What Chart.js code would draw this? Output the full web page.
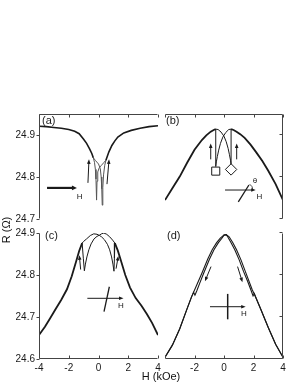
<!DOCTYPE html>
<html>
<head>
<meta charset="utf-8">
<script src="https://cdn.jsdelivr.net/npm/chart.js@4.4.1/dist/chart.umd.min.js"></script>
<style>
  html, body { margin: 0; padding: 0; background: #fff; }
  #wrap { position: relative; width: 298px; height: 385px; overflow: hidden; font-family: 'Liberation Sans', Arial, sans-serif; color: #111; }
  #wrap canvas { position: absolute; left: 0; top: 0; }
  .ylab { position: absolute; left: -14px; top: 223px; width: 40px; height: 14px; line-height: 14px; text-align: center; font-size: 11px; transform: rotate(-90deg); }
  .xlab { position: absolute; left: 126px; top: 370px; width: 70px; line-height: 13px; text-align: center; font-size: 11px; }
</style>
</head>
<body>
<div id="wrap">
  <canvas id="panelA" width="298" height="385"></canvas>
  <canvas id="panelB" width="298" height="385"></canvas>
  <canvas id="panelC" width="298" height="385"></canvas>
  <canvas id="panelD" width="298" height="385"></canvas>
  <div class="ylab">R (Ω)</div>
  <div class="xlab">H (kOe)</div>
</div>
<script>
// tick values
const hTicks = [-4, -2, 0, 2, 4];
const cHLabels = [-4, -2, 0, 2, 4];
const dHLabels = [-2, 0, 2, 4];
const topRTicks = [24.7, 24.8, 24.9];
const bottomRTicks = [24.6, 24.7, 24.8, 24.9];

// (a) shared envelope plus the two dips near zero
const aOuterLeftH = [-4, -3.5, -3, -2.5, -2, -1.6, -1.3, -1, -0.8, -0.6, -0.45, -0.35];
const aOuterLeftR = [24.921, 24.92, 24.918, 24.916, 24.913, 24.909, 24.903, 24.89, 24.88, 24.867, 24.856, 24.846];
const aOuterRightH = [0.5, 0.6, 0.7, 0.9, 1.1, 1.3, 1.7, 2.2, 2.8, 3.4, 4];
const aOuterRightR = [24.84, 24.85, 24.86, 24.875, 24.886, 24.895, 24.905, 24.911, 24.916, 24.92, 24.922];
const aDip1H = [-0.35, -0.27, -0.21, -0.17, -0.13, -0.1, -0.05, 0.05, 0.2, 0.35, 0.5];
const aDip1R = [24.846, 24.835, 24.818, 24.795, 24.745, 24.79, 24.812, 24.822, 24.828, 24.834, 24.84];
const aDip2H = [-0.35, -0.2, 0, 0.12, 0.18, 0.22, 0.25, 0.29, 0.34, 0.42, 0.5];
const aDip2R = [24.846, 24.839, 24.831, 24.82, 24.8, 24.772, 24.733, 24.775, 24.805, 24.828, 24.84];

// (b) outer curves, inner arcs with jumps, and the two markers
const bLeftH = [-4, -3.5, -3, -2.5, -2, -1.5, -1.2, -0.9, -0.7, -0.56];
const bLeftR = [24.745, 24.773, 24.801, 24.834, 24.865, 24.888, 24.899, 24.908, 24.912, 24.914];
const bRightH = [0.48, 0.65, 0.85, 1.1, 1.4, 1.8, 2.2, 2.6, 3, 3.5, 4];
const bRightR = [24.914, 24.912, 24.908, 24.902, 24.893, 24.877, 24.858, 24.838, 24.815, 24.783, 24.745];
const bUpInnerH = [-0.56, -0.4, -0.2, 0, 0.15, 0.28, 0.37, 0.44, 0.48, 0.48];
const bUpInnerR = [24.914, 24.913, 24.907, 24.897, 24.884, 24.868, 24.853, 24.84, 24.829, 24.914];
const bDownInnerH = [0.48, 0.32, 0.12, -0.08, -0.24, -0.36, -0.45, -0.52, -0.56, -0.56];
const bDownInnerR = [24.914, 24.913, 24.906, 24.895, 24.88, 24.864, 24.849, 24.836, 24.825, 24.914];
const bSquareH = [-0.56];
const bSquareR = [24.814];
const bDiamondH = [0.48];
const bDiamondR = [24.818];

// (c) outer curves and the two notched inner branches
const cOuterLeftH = [-4, -3.6, -3.25, -2.9, -2.5, -2.12, -1.8, -1.5, -1.3, -1.1];
const cOuterLeftR = [24.657, 24.677, 24.697, 24.718, 24.741, 24.766, 24.797, 24.833, 24.857, 24.876];
const cOuterRightH = [1.1, 1.3, 1.5, 1.8, 2.12, 2.5, 2.9, 3.25, 3.6, 4];
const cOuterRightR = [24.876, 24.858, 24.835, 24.8, 24.77, 24.745, 24.726, 24.707, 24.686, 24.657];
const cInnerUpH = [-1.1, -1.02, -0.95, -0.88, -0.78, -0.65, -0.5, -0.3, -0.1, 0.07, 0.2, 0.36, 0.55, 0.75, 0.95, 1.1];
const cInnerUpR = [24.876, 24.84, 24.81, 24.826, 24.843, 24.86, 24.874, 24.886, 24.892, 24.895, 24.898, 24.9, 24.897, 24.891, 24.883, 24.876];
const cInnerDownH = [1.1, 1.07, 1.04, 0.97, 0.88, 0.75, 0.6, 0.4, 0.2, 0.07, -0.1, -0.32, -0.55, -0.8, -1.0, -1.1];
const cInnerDownR = [24.876, 24.84, 24.809, 24.826, 24.843, 24.86, 24.873, 24.884, 24.891, 24.894, 24.897, 24.898, 24.894, 24.886, 24.88, 24.876];

// (d) up and down sweeps
const dUpH = [-4, -3.5, -3, -2.5, -2.2, -1.9, -1.5, -1.1, -0.8, -0.5, -0.25, 0, 0.15, 0.25, 0.48, 0.73, 1.03, 1.33, 1.6, 1.85, 1.97, 2.06, 2.2, 2.5, 3, 3.5, 4];
const dUpR = [24.604, 24.633, 24.672, 24.72, 24.748, 24.772, 24.804, 24.838, 24.86, 24.877, 24.888, 24.895, 24.896, 24.891, 24.877, 24.86, 24.836, 24.808, 24.785, 24.762, 24.75, 24.756, 24.743, 24.718, 24.675, 24.635, 24.604];
const dDownH = [4, 3.5, 3, 2.5, 2.2, 1.9, 1.45, 1.15, 0.85, 0.6, 0.35, 0.15, 0, -0.13, -0.38, -0.68, -0.98, -1.38, -1.65, -1.85, -1.97, -2.06, -2.2, -2.5, -3, -3.5, -4];
const dDownR = [24.604, 24.635, 24.675, 24.718, 24.743, 24.766, 24.808, 24.836, 24.86, 24.877, 24.891, 24.896, 24.895, 24.888, 24.877, 24.86, 24.838, 24.804, 24.78, 24.762, 24.752, 24.759, 24.748, 24.72, 24.672, 24.633, 24.604];

const INK = '#1a1a1a';
const AXIS = '#444';
const FONT = "'Liberation Sans', Arial, sans-serif";

Chart.defaults.font.family = FONT;
Chart.defaults.color = INK;

function toPoints(hs, rs) {
    return hs.map((h, i) => ({ x: h, y: rs[i] }));
}

function curve(hs, rs, width, color) {
    return {
        data: toPoints(hs, rs),
        showLine: true,
        borderColor: color || INK,
        borderWidth: width,
        pointRadius: 0,
        tension: 0,
        fill: false
    };
}

function marker(hs, rs, style) {
    return {
        data: toPoints(hs, rs),
        showLine: false,
        pointStyle: style,
        pointRadius: 5.7,
        backgroundColor: '#fff',
        borderColor: INK,
        borderWidth: 1,
        order: -1
    };
}

// axis lines and tick marks, drawn at the scale positions
const framePlugin = {
    id: 'frame',
    afterDraw(chart, args, opts) {
        const { ctx, chartArea: ca, scales: { x, y } } = chart;
        const L = Math.round(ca.left) + 0.5;
        const R = Math.round(ca.right) - 0.5;
        const T = Math.round(ca.top) + 0.5;
        const B = Math.round(ca.bottom) - 0.5;
        ctx.save();
        ctx.strokeStyle = AXIS;
        ctx.lineWidth = 1;
        ctx.beginPath();
        if (opts.left) {
            ctx.moveTo(L, T); ctx.lineTo(L, B);
            opts.yTicks.forEach(v => {
                const py = Math.round(y.getPixelForValue(v)) + 0.5;
                ctx.moveTo(L - 3, py); ctx.lineTo(L, py);
            });
        }
        if (opts.right) {
            ctx.moveTo(R, T); ctx.lineTo(R, B);
            opts.yTicks.forEach(v => {
                const py = Math.round(y.getPixelForValue(v)) - 0.5;
                ctx.moveTo(R - 3, py); ctx.lineTo(R, py);
            });
        }
        if (opts.top) {
            ctx.moveTo(L, T); ctx.lineTo(R, T);
            opts.xTicks.forEach(v => {
                const px = Math.round(x.getPixelForValue(v)) + 0.5;
                ctx.moveTo(px, T); ctx.lineTo(px, T + 3);
            });
        }
        if (opts.bottom) {
            ctx.moveTo(L, B); ctx.lineTo(R, B);
            opts.xTicks.forEach(v => {
                const px = Math.round(x.getPixelForValue(v)) + 0.5;
                ctx.moveTo(px, B - 3); ctx.lineTo(px, B);
            });
        }
        ctx.stroke();
        ctx.restore();
    }
};

// arrows, field sketches and panel letters
const notesPlugin = {
    id: 'notes',
    afterDatasetsDraw(chart, args, opts) {
        const { ctx, chartArea: ca, scales: { x, y } } = chart;
        const toPx = p => [x.getPixelForValue(p[0]), y.getPixelForValue(p[1])];
        ctx.save();
        ctx.strokeStyle = INK;
        ctx.fillStyle = INK;
        (opts.items || []).forEach(it => {
            if (it.type === 'line' || it.type === 'arrow') {
                const [x1, y1] = toPx(it.from);
                const [x2, y2] = toPx(it.to);
                const a = Math.atan2(y2 - y1, x2 - x1);
                const len = it.head || 4.5;
                const stop = it.type === 'arrow' ? len * 0.6 : 0;
                ctx.lineWidth = it.width || 1;
                ctx.beginPath();
                ctx.moveTo(x1, y1);
                ctx.lineTo(x2 - stop * Math.cos(a), y2 - stop * Math.sin(a));
                ctx.stroke();
                if (it.type === 'arrow') {
                    const half = it.half || 1.8;
                    ctx.beginPath();
                    ctx.moveTo(x2, y2);
                    ctx.lineTo(x2 - len * Math.cos(a) + half * Math.sin(a), y2 - len * Math.sin(a) - half * Math.cos(a));
                    ctx.lineTo(x2 - len * Math.cos(a) - half * Math.sin(a), y2 - len * Math.sin(a) + half * Math.cos(a));
                    ctx.closePath();
                    ctx.fill();
                }
            } else if (it.type === 'text') {
                const [tx, ty] = toPx(it.at);
                ctx.font = (it.size || 8) + 'px ' + FONT;
                ctx.textAlign = 'left';
                ctx.textBaseline = 'alphabetic';
                ctx.fillText(it.text, tx, ty);
            } else if (it.type === 'arc') {
                const [cx, cy] = toPx(it.at);
                ctx.lineWidth = 0.8;
                ctx.beginPath();
                ctx.arc(cx, cy, it.radius, it.start * Math.PI / 180, it.end * Math.PI / 180);
                ctx.stroke();
            }
        });
        ctx.font = '11px ' + FONT;
        ctx.textAlign = 'left';
        ctx.textBaseline = 'alphabetic';
        ctx.fillText(opts.label, ca.left + opts.labelDx, ca.top + opts.labelDy);
        ctx.restore();
    }
};

function buildPanel(canvasId, cfg) {
    return new Chart(document.getElementById(canvasId), {
        type: 'scatter',
        data: { datasets: cfg.datasets },
        options: {
            responsive: false,
            animation: false,
            devicePixelRatio: 1,
            events: [],
            layout: { padding: cfg.padding },
            plugins: {
                legend: { display: false },
                tooltip: { enabled: false },
                frame: cfg.frame,
                notes: cfg.notes
            },
            scales: {
                x: {
                    type: 'linear',
                    min: -4,
                    max: 4,
                    display: !!cfg.xLabels,
                    grid: { display: false, drawTicks: false },
                    border: { display: false },
                    afterBuildTicks: s => { s.ticks = (cfg.xLabels || hTicks).map(v => ({ value: v })); },
                    afterFit: s => { if (cfg.xLabels) s.height = 26; },
                    ticks: {
                        padding: 3,
                        color: INK,
                        font: { size: 10 },
                        maxRotation: 0,
                        autoSkip: false,
                        callback: v => String(v)
                    }
                },
                y: {
                    type: 'linear',
                    min: cfg.yMin,
                    max: cfg.yMax,
                    display: !!cfg.yLabels,
                    grid: { display: false, drawTicks: false },
                    border: { display: false },
                    afterBuildTicks: s => { s.ticks = (cfg.yLabels || cfg.frame.yTicks).map(v => ({ value: v })); },
                    afterFit: s => { if (cfg.yLabels) s.width = 39; },
                    ticks: {
                        padding: 4,
                        color: INK,
                        font: { size: 10 },
                        autoSkip: false,
                        callback: v => Number(v).toFixed(1)
                    }
                }
            }
        },
        plugins: [framePlugin, notesPlugin]
    });
}

// (a)
buildPanel('panelA', {
    padding: { left: 0, top: 114, right: 140, bottom: 166 },
    yMin: 24.7, yMax: 24.95,
    yLabels: topRTicks,
    frame: { left: true, top: true, yTicks: topRTicks, xTicks: hTicks },
    datasets: [
        curve(aOuterLeftH, aOuterLeftR, 1.6),
        curve(aOuterRightH, aOuterRightR, 1.6),
        curve(aDip1H, aDip1R, 1, '#555'),
        curve(aDip2H, aDip2R, 1, '#555')
    ],
    notes: {
        label: '(a)', labelDx: 3, labelDy: 9.5,
        items: [
            { type: 'arrow', from: [-0.71, 24.786], to: [-0.64, 24.842], width: 1 },
            { type: 'arrow', from: [0.57, 24.783], to: [0.71, 24.842], width: 1 },
            { type: 'arrow', from: [-3.46, 24.774], to: [-1.45, 24.774], width: 2.2, head: 5, half: 2.3 },
            { type: 'text', at: [-1.47, 24.748], text: 'H', size: 8 }
        ]
    }
});

// (b)
buildPanel('panelB', {
    padding: { left: 165, top: 114, right: 15, bottom: 166 },
    yMin: 24.7, yMax: 24.95,
    frame: { right: true, top: true, yTicks: topRTicks, xTicks: hTicks },
    datasets: [
        marker(bSquareH, bSquareR, 'rect'),
        marker(bDiamondH, bDiamondR, 'rectRot'),
        curve(bLeftH, bLeftR, 1.8),
        curve(bRightH, bRightR, 1.8),
        curve(bUpInnerH, bUpInnerR, 1),
        curve(bDownInnerH, bDownInnerR, 1)
    ],
    notes: {
        label: '(b)', labelDx: 1, labelDy: 9.5,
        items: [
            { type: 'arrow', from: [-0.9, 24.842], to: [-0.9, 24.88], width: 1 },
            { type: 'arrow', from: [0.86, 24.842], to: [0.86, 24.88], width: 1 },
            { type: 'arrow', from: [0.07, 24.769], to: [2.15, 24.769], width: 1, head: 4.5 },
            { type: 'line', from: [0.97, 24.741], to: [1.69, 24.781], width: 1.3 },
            { type: 'arc', at: [1.48, 24.769], radius: 7, start: -57, end: 0 },
            { type: 'text', at: [1.95, 24.785], text: 'θ', size: 8 },
            { type: 'text', at: [2.2, 24.747], text: 'H', size: 8 }
        ]
    }
});

// (c)
buildPanel('panelC', {
    padding: { left: 0, top: 233, right: 140, bottom: 0 },
    yMin: 24.6, yMax: 24.9,
    yLabels: bottomRTicks,
    xLabels: cHLabels,
    frame: { left: true, bottom: true, yTicks: bottomRTicks, xTicks: hTicks },
    datasets: [
        curve(cOuterLeftH, cOuterLeftR, 1.8),
        curve(cOuterRightH, cOuterRightR, 1.8),
        curve(cInnerUpH, cInnerUpR, 1),
        curve(cInnerDownH, cInnerDownR, 1)
    ],
    notes: {
        label: '(c)', labelDx: 6, labelDy: 5.5,
        items: [
            { type: 'arrow', from: [-1.2, 24.813], to: [-1.29, 24.847], width: 1 },
            { type: 'arrow', from: [1.18, 24.815], to: [1.33, 24.845], width: 1 },
            { type: 'arrow', from: [-0.75, 24.7445], to: [1.68, 24.7445], width: 1, head: 4.5 },
            { type: 'line', from: [0.37, 24.7126], to: [0.73, 24.772], width: 1.3 },
            { type: 'text', at: [1.31, 24.7214], text: 'H', size: 8 }
        ]
    }
});

// (d)
buildPanel('panelD', {
    padding: { left: 165, top: 233, right: 15, bottom: 0 },
    yMin: 24.6, yMax: 24.9,
    xLabels: dHLabels,
    frame: { right: true, bottom: true, yTicks: bottomRTicks, xTicks: hTicks },
    datasets: [curve(dUpH, dUpR, 1.1), curve(dDownH, dDownR, 1.1)],
    notes: {
        label: '(d)', labelDx: 2, labelDy: 5.5,
        items: [
            { type: 'arrow', from: [-0.88, 24.82], to: [-1.29, 24.785], width: 1 },
            { type: 'arrow', from: [0.92, 24.82], to: [1.25, 24.783], width: 1 },
            { type: 'arrow', from: [-0.95, 24.7245], to: [1.47, 24.7245], width: 1, head: 4.5 },
            { type: 'line', from: [0.25, 24.6945], to: [0.25, 24.755], width: 1.5 },
            { type: 'text', at: [1.15, 24.7024], text: 'H', size: 8 }
        ]
    }
});
</script>
</body>
</html>
